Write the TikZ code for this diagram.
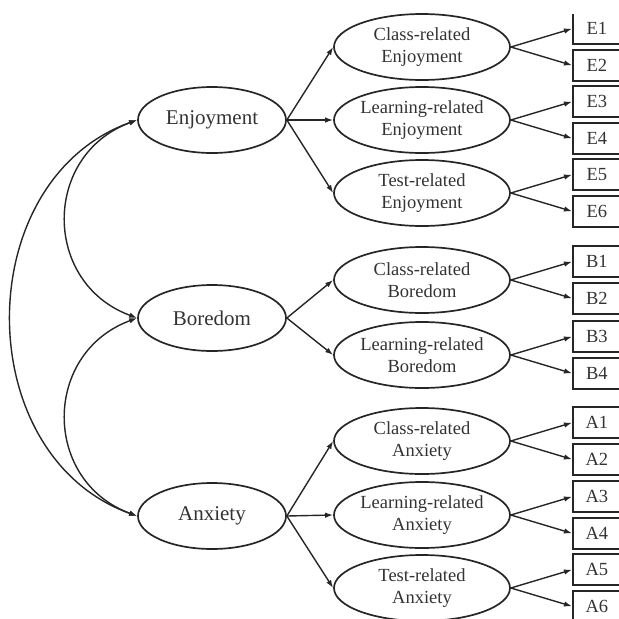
\documentclass[tikz,border=0pt]{standalone}
\usepackage{fontspec}
\setmainfont{Liberation Serif}
\usetikzlibrary{arrows.meta,shapes.geometric}

\begin{document}
\begin{tikzpicture}[
    x=1pt, y=-1pt,
    factor/.style={ellipse, draw=black!85, line width=1.7pt, text=black!80,
        minimum width=148pt, minimum height=66pt, inner sep=0pt,
        font=\fontsize{21}{24}\selectfont},
    facet/.style={ellipse, draw=black!85, line width=1.7pt, text=black!80,
        minimum width=176pt, minimum height=66pt, inner sep=0pt, align=center,
        font=\fontsize{18.5}{22}\selectfont},
    item/.style={rectangle, draw=black!85, line width=1.7pt, text=black!80,
        minimum width=48pt, minimum height=31pt, inner sep=0pt, anchor=west,
        font=\fontsize{18.5}{22}\selectfont},
    load/.style={draw=black!85, line width=1.4pt, -{Latex[length=8pt,width=5.5pt]}},
    cov/.style={draw=black!85, line width=1.4pt, {Latex[length=8pt,width=5.5pt]}-{Latex[length=8pt,width=5.5pt]}}
]
\useasboundingbox (0,0) rectangle (619,619);

\node[factor] (enjoyment) at (212,120) {Enjoyment};
\node[factor] (boredom) at (212,318) {Boredom};
\node[factor] (anxiety) at (212,516) {Anxiety};

\node[facet] (classEnj) at (422,47) {Class-related\\Enjoyment};
\node[facet] (learnEnj) at (422,120) {Learning-related\\Enjoyment};
\node[facet] (testEnj) at (422,193) {Test-related\\Enjoyment};
\node[facet] (classBor) at (422,280) {Class-related\\Boredom};
\node[facet] (learnBor) at (422,355) {Learning-related\\Boredom};
\node[facet] (classAnx) at (422,441) {Class-related\\Anxiety};
\node[facet] (learnAnx) at (422,515) {Learning-related\\Anxiety};
\node[facet] (testAnx) at (422,588) {Test-related\\Anxiety};

\begin{scope}
\clip (560,14.5) rectangle (619,619);
\foreach \name/\yy in {E1/28.7, E2/65.3, E3/101.7, E4/138.3, E5/174.7, E6/211.3,
    B1/261.7, B2/298.3, B3/336.7, B4/373.3,
    A1/422.7, A2/459.3, A3/496.7, A4/533.3, A5/569.7, A6/606.3}
    \node[item] (\name) at (572,\yy) {\name};
\end{scope}

\foreach \src/\dst in {classEnj/enjoyment, learnEnj/enjoyment, testEnj/enjoyment,
    classBor/boredom, learnBor/boredom,
    classAnx/anxiety, learnAnx/anxiety, testAnx/anxiety}
    \draw[load] (\dst.east) -- (\src.west);

\foreach \src/\a/\b in {classEnj/E1/E2, learnEnj/E3/E4, testEnj/E5/E6,
    classBor/B1/B2, learnBor/B3/B4,
    classAnx/A1/A2, learnAnx/A3/A4, testAnx/A5/A6}
{
    \draw[load] (\src.east) -- (\a.west);
    \draw[load] (\src.east) -- (\b.west);
}

\draw[cov] (enjoyment.west) .. controls +(-95,35) and +(-95,-35) .. (boredom.west);
\draw[cov] (boredom.west) .. controls +(-95,35) and +(-95,-35) .. (anxiety.west);
\draw[cov] (enjoyment.west) .. controls +(-168,60) and +(-168,-60) .. (anxiety.west);
\end{tikzpicture}
\end{document}
